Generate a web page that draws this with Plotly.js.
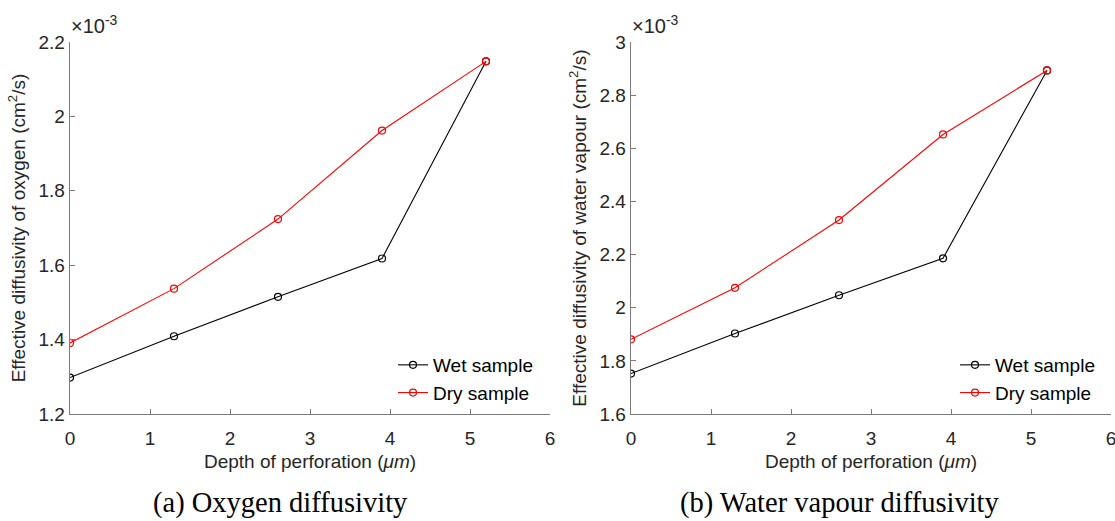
<!DOCTYPE html>
<html>
<head>
<meta charset="utf-8">
<script src="https://cdn.plot.ly/plotly-3.0.1.min.js"></script>
<style>html,body{margin:0;padding:0;background:#fff;}#chart{width:1115px;height:521px;}</style>
</head>
<body>
<div id="chart"></div>
<script>
// Depth of perforation (µm)
const depth = [0, 1.3, 2.6, 3.9, 5.2];
// Effective diffusivity of oxygen (×10^-3 cm²/s)
const oxygenWet = [1.298, 1.409, 1.515, 1.618, 2.148];
const oxygenDry = [1.391, 1.537, 1.724, 1.962, 2.148];
// Effective diffusivity of water vapour (×10^-3 cm²/s)
const vapourWet = [1.752, 1.903, 2.047, 2.186, 2.893];
const vapourDry = [1.881, 2.075, 2.330, 2.652, 2.893];
const seriesNames = ['Wet sample', 'Dry sample'];
const captions = ['(a) Oxygen diffusivity', '(b) Water vapour diffusivity'];
const yTitles = ['Effective diffusivity of oxygen (cm<sup>2</sup>/s)', 'Effective diffusivity of water vapour (cm<sup>2</sup>/s)'];
const xTitle = 'Depth of perforation (<i>μm</i>)';
const exponentLabel = '×10<sup>-3</sup>';

const W = 1115, H = 521;
const sans = 'Liberation Sans, Arial, Helvetica, sans-serif';
const serif = 'Liberation Serif, Times New Roman, serif';
const axisCol = '#7a7a7a';
const textCol = '#262626';

function line(x, y, name, color, xa, ya, leg) {
  return {
    x: x, y: y, name: name, type: 'scatter', mode: 'lines+markers',
    xaxis: xa, yaxis: ya, legend: leg,
    line: {color: color, width: 1.1},
    marker: {symbol: 'circle-open', size: 7, color: color, line: {color: color, width: 1.2}}
  };
}

const traces = [
  line(depth, oxygenWet, seriesNames[0], '#000000', 'x', 'y', 'legend'),
  line(depth, oxygenDry, seriesNames[1], '#ff0000', 'x', 'y', 'legend'),
  line(depth, vapourWet, seriesNames[0], '#000000', 'x2', 'y2', 'legend2'),
  line(depth, vapourDry, seriesNames[1], '#ff0000', 'x2', 'y2', 'legend2')
];

const yDom = [(H - 414) / H, (H - 42) / H];
function xAxis(dom, anchor) {
  return {
    domain: dom, anchor: anchor, range: [0, 6], dtick: 1, tick0: 0,
    showline: true, linecolor: axisCol, linewidth: 1.3, mirror: false,
    ticks: 'inside', ticklen: 5, tickcolor: axisCol, tickwidth: 1,
    showgrid: false, zeroline: false, ticklabelstandoff: 7, ticklabeloverflow: 'allow',
    tickfont: {family: sans, size: 19, color: textCol},
    title: {text: xTitle, font: {family: sans, size: 19, color: textCol}, standoff: 6},
    automargin: false
  };
}
function yAxis(range, anchor, title) {
  return {
    domain: yDom, anchor: anchor, range: range, dtick: 0.2,
    showline: true, linecolor: axisCol, linewidth: 1.3, mirror: false,
    ticks: 'inside', ticklen: 5, tickcolor: axisCol, tickwidth: 1,
    showgrid: false, zeroline: false,
    tickfont: {family: sans, size: 19, color: textCol},
    title: {text: title, font: {family: sans, size: 19, color: textCol}, standoff: 7},
    automargin: false
  };
}

const layout = {
  width: W, height: H,
  margin: {l: 0, r: 0, t: 0, b: 0},
  paper_bgcolor: '#ffffff', plot_bgcolor: '#ffffff',
  showlegend: true,
  xaxis: xAxis([70 / W, 550 / W], 'y'),
  yaxis: yAxis([1.2, 2.2], 'x', yTitles[0]),
  xaxis2: xAxis([631 / W, 1111 / W], 'y2'),
  yaxis2: yAxis([1.6, 3.0], 'x2', yTitles[1]),
  legend: {
    x: 393 / W, y: (H - 346) / H, xanchor: 'left', yanchor: 'top',
    bgcolor: 'rgba(255,255,255,0)', borderwidth: 0,
    font: {family: sans, size: 19, color: '#000000'}, tracegroupgap: 1
  },
  legend2: {
    x: 955 / W, y: (H - 346) / H, xanchor: 'left', yanchor: 'top',
    bgcolor: 'rgba(255,255,255,0)', borderwidth: 0,
    font: {family: sans, size: 19, color: '#000000'}, tracegroupgap: 1
  },
  annotations: [
    {text: exponentLabel, xref: 'paper', yref: 'paper', x: 69 / W, y: (H - 39) / H,
     xanchor: 'left', yanchor: 'bottom', showarrow: false,
     font: {family: sans, size: 20, color: textCol}},
    {text: exponentLabel, xref: 'paper', yref: 'paper', x: 630 / W, y: (H - 39) / H,
     xanchor: 'left', yanchor: 'bottom', showarrow: false,
     font: {family: sans, size: 20, color: textCol}},
    {text: captions[0], xref: 'paper', yref: 'paper', x: 280 / W, y: (H - 503) / H,
     xanchor: 'center', yanchor: 'middle', showarrow: false,
     font: {family: serif, size: 28.5, color: '#000000'}},
    {text: captions[1], xref: 'paper', yref: 'paper', x: 840 / W, y: (H - 503) / H,
     xanchor: 'center', yanchor: 'middle', showarrow: false,
     font: {family: serif, size: 28.5, color: '#000000'}}
  ]
};

Plotly.newPlot('chart', traces, layout, {staticPlot: true, displayModeBar: false});
</script>
</body>
</html>
